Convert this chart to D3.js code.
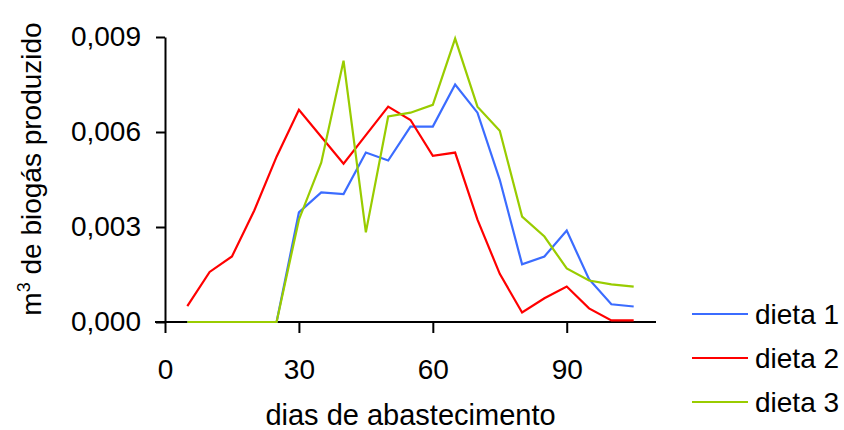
<!DOCTYPE html>
<html lang="en">
<head>
  <meta charset="UTF-8">
  <title>biogas</title>
  <style>
    body { margin: 0; padding: 0; background: #fff; }
    svg { display: block; }
    text { font-family: "Liberation Sans", Arial, sans-serif; fill: #000; }
  </style>
</head>
<body>
  <div class="chart"></div>
  <script src="https://cdnjs.cloudflare.com/ajax/libs/d3/7.8.5/d3.min.js"></script>
  <script>
    'use strict';

    const dias = [5, 10, 15, 20, 25, 30, 35, 40, 45, 50, 55, 60, 65, 70, 75, 80, 85, 90, 95, 100, 105];
    const dieta1 = [0, 0, 0, 0, 0, 0.00346, 0.00409, 0.00404, 0.00535, 0.0051, 0.00617, 0.00617, 0.0075, 0.00661, 0.00449, 0.00182, 0.00207, 0.00289, 0.00135, 0.00056, 0.00049];
    const dieta2 = [0.0005, 0.00158, 0.00207, 0.00352, 0.00522, 0.0067, 0.00585, 0.005, 0.0059, 0.0068, 0.00638, 0.00525, 0.00535, 0.00323, 0.00152, 0.0003, 0.00075, 0.00112, 0.00043, 0.00005, 0.00005];
    const dieta3 = [0, 0, 0, 0, 0, 0.00323, 0.00503, 0.00825, 0.00283, 0.00649, 0.00661, 0.00686, 0.00895, 0.0068, 0.00604, 0.00333, 0.0027, 0.00169, 0.00131, 0.00119, 0.00112];
    const seriesNames = ['dieta 1', 'dieta 2', 'dieta 3'];
    const colors = ['#3b6cff', '#ff0000', '#99cc00'];
    const xTicks = [0, 30, 60, 90];
    const yTicks = [0, 0.003, 0.006, 0.009];

    const w = 844, h = 430;
    const mLeft = 165, mRight = 656, mTop = 37, mBottom = 322;

    const svg = d3.select('.chart').append('svg')
      .attr('width', w)
      .attr('height', h);

    const x = d3.scaleLinear().domain([0, 110]).range([mLeft, mRight]);
    const y = d3.scaleLinear().domain([0, 0.009]).range([mBottom, mTop]);

    const ptBR = d3.formatLocale({ decimal: ',', thousands: '.', grouping: [3], currency: ['R$', ''] });
    const yFmt = ptBR.format('.3f');

    // axes
    const xAxis = svg.append('g')
      .attr('transform', `translate(0,${mBottom})`)
      .call(d3.axisBottom(x).tickValues(xTicks).tickSize(11).tickSizeOuter(0).tickPadding(26));

    const yAxis = svg.append('g')
      .attr('transform', `translate(${mLeft},0)`)
      .call(d3.axisLeft(y).tickValues(yTicks).tickFormat(yFmt).tickSize(9).tickSizeOuter(0).tickPadding(15));

    [xAxis, yAxis].forEach(g => {
      g.selectAll('path, line').attr('stroke', '#000').attr('stroke-width', 2);
      g.selectAll('text').style('font-size', '28px').attr('fill', '#000');
    });
    xAxis.select('.domain').attr('d', `M${mLeft - 10},0H${mRight}`);

    // axis titles
    svg.append('text')
      .attr('x', (mLeft + mRight) / 2)
      .attr('y', 425)
      .attr('text-anchor', 'middle')
      .style('font-size', '29px')
      .text('dias de abastecimento');

    const yt = svg.append('text')
      .attr('transform', 'translate(41,169) rotate(-90)')
      .attr('text-anchor', 'middle')
      .style('font-size', '28px');
    yt.append('tspan').text('m');
    yt.append('tspan').attr('dy', -11).style('font-size', '18px').text('3');
    yt.append('tspan').attr('dy', 11).text(' de biogás produzido');

    // lines
    const line = d3.line()
      .x((d, i) => x(dias[i]))
      .y(d => y(d));

    [dieta1, dieta2, dieta3].forEach((s, i) => {
      svg.append('path')
        .attr('d', line(s))
        .attr('fill', 'none')
        .attr('stroke', colors[i])
        .attr('stroke-width', 2.2)
        .attr('stroke-linejoin', 'miter');
    });

    // legend
    const legend = svg.append('g');
    seriesNames.forEach((name, i) => {
      const ly = 314 + i * 44;
      legend.append('line')
        .attr('x1', 692).attr('x2', 748)
        .attr('y1', ly).attr('y2', ly)
        .attr('stroke', colors[i])
        .attr('stroke-width', 2.2);
      legend.append('text')
        .attr('x', 755)
        .attr('y', ly)
        .attr('dy', '0.35em')
        .style('font-size', '28px')
        .text(name);
    });
  </script>
</body>
</html>
